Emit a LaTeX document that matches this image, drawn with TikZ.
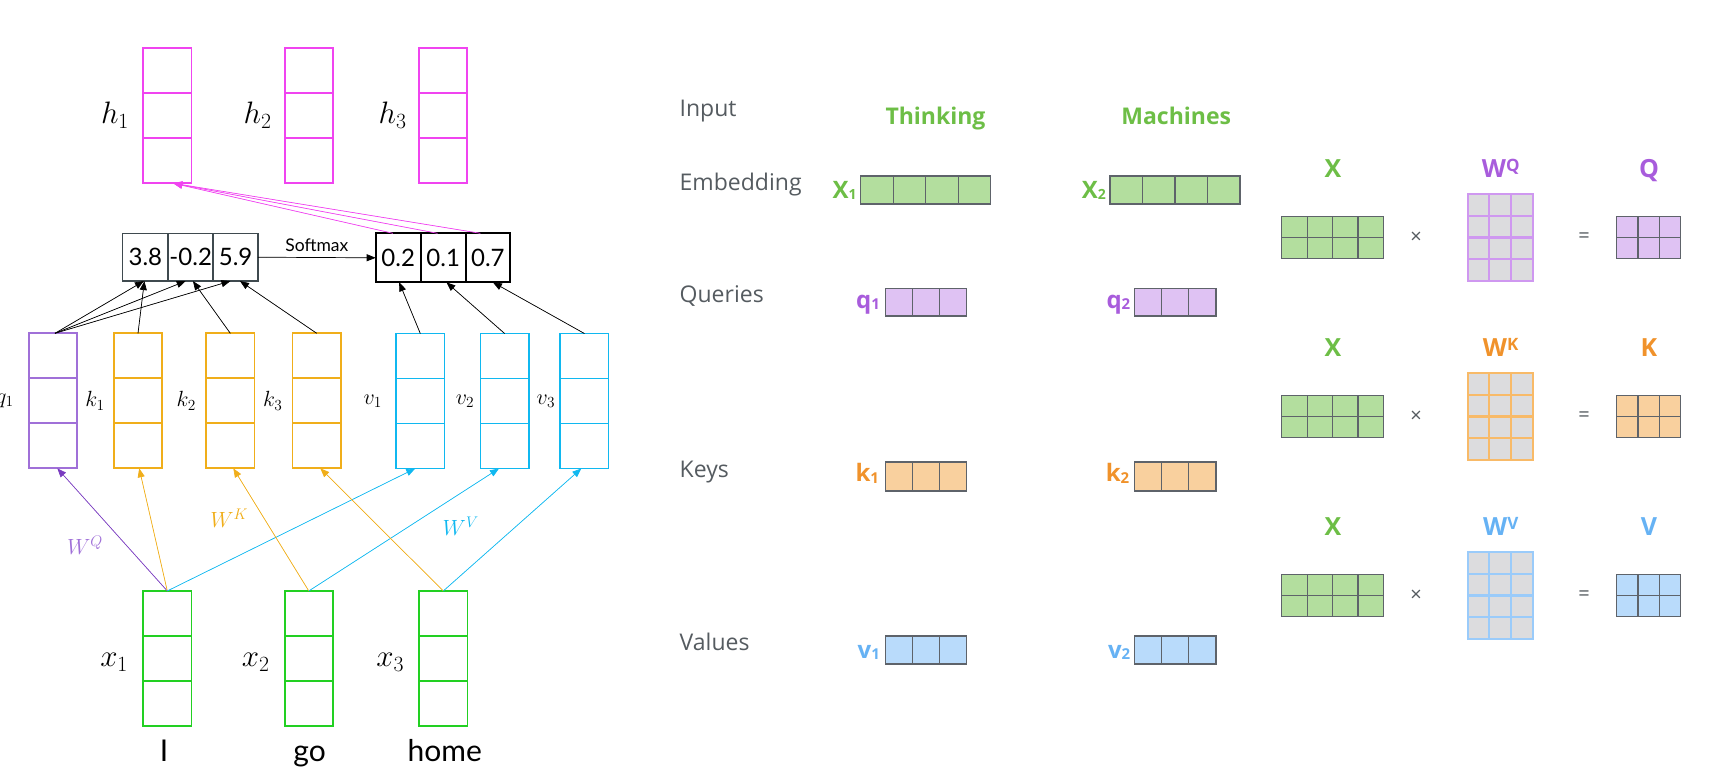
\RequirePackage{fix-cm}
\documentclass[tikz,border=0pt]{standalone}
\usepackage{fontspec}
\usetikzlibrary{arrows.meta,calc}
\newfontfamily\lato{Lato}
\newfontfamily\osf{Open Sans}
\definecolor{pinkc}{HTML}{F044F0}
\definecolor{greenc}{HTML}{22D022}
\definecolor{purc}{HTML}{A070D8}
\definecolor{purarr}{HTML}{7A3CC0}
\definecolor{orc}{HTML}{F0AE1A}
\definecolor{cyc}{HTML}{10B8F0}
\definecolor{scb}{HTML}{3F4A4F}
\definecolor{gtxt}{HTML}{555B60}
\definecolor{gfill}{HTML}{B3DE9E}
\definecolor{glab}{HTML}{6DBE46}
\definecolor{pfill}{HTML}{DFC2F3}
\definecolor{plab}{HTML}{A85CDC}
\definecolor{pgrid}{HTML}{CF98F0}
\definecolor{ofill}{HTML}{F9D09E}
\definecolor{olab}{HTML}{F0922B}
\definecolor{ogrid}{HTML}{F8BA68}
\definecolor{bfill}{HTML}{B9DBFB}
\definecolor{blab}{HTML}{66B2F4}
\definecolor{bgrid}{HTML}{9ACBFA}
\definecolor{cellg}{HTML}{DCDCDE}
\definecolor{mborder}{HTML}{5E636A}
\newcommand\mkgrid[4]{%
  \pgfmathtruncatemacro\mgc{#2-1}\pgfmathtruncatemacro\mgr{#3-1}%
  \ifnum\mgc>0 \foreach \i in {1,...,\mgc}{\draw[#4] ($(#1.north west)!\i/#2!(#1.north east)$) -- ($(#1.south west)!\i/#2!(#1.south east)$);}\fi
  \ifnum\mgr>0 \foreach \j in {1,...,\mgr}{\draw[#4] ($(#1.north west)!\j/#3!(#1.south west)$) -- ($(#1.north east)!\j/#3!(#1.south east)$);}\fi
}
\tikzset{
  vec/.style={draw=#1, line width=1.8pt, minimum width=48.3pt, minimum height=135pt, inner sep=0pt, outer sep=0pt},
  mlab/.style={font=\fontsize{31}{31}\selectfont, inner sep=0pt},
  slab/.style={font=\fontsize{22}{22}\selectfont, inner sep=0pt},
  wlab/.style={font=\fontsize{22}{22}\selectfont, inner sep=0pt},
  word/.style={font=\lato\fontsize{30}{30}\selectfont, inner sep=0pt},
  sc/.style={draw=scb, line width=1.5pt, minimum height=47.7pt, minimum width=45pt, inner sep=0pt, outer sep=0pt, font=\lato\fontsize{24}{24}\selectfont},
  pc/.style={draw=black, line width=2pt, minimum height=49pt, minimum width=45pt, inner sep=0pt, outer sep=0pt, font=\lato\fontsize{24}{24}\selectfont},
  arr/.style={-{Triangle[length=9pt,width=7pt]}, line width=0.7pt, draw=#1, fill=#1},
  rl/.style={font=\osf\fontsize{23}{23}\selectfont, text=gtxt, inner sep=0pt, anchor=base west},
  gl/.style={font=\osf\bfseries\fontsize{23}{23}\selectfont, text=glab, inner sep=0pt, anchor=base},
  hv/.style={draw=mborder, line width=1.2pt, inner sep=0pt, outer sep=0pt, fill=#1},
  vlab/.style={font=\osf\bfseries\fontsize{24}{24}\selectfont, text=#1, inner sep=0pt, anchor=base east},
  mlabr/.style={font=\osf\bfseries\fontsize{25}{25}\selectfont, text=#1, inner sep=0pt, anchor=base},
  op/.style={font=\osf\fontsize{20}{20}\selectfont, text=gtxt, inner sep=0pt},
}
\begin{document}
\begin{tikzpicture}[x=1pt,y=-1pt]
\useasboundingbox (0,0) rectangle (1722,782);
% ---------- left: h vectors
\foreach \n/\x in {h1/167.3,h2/308.8,h3/443}{
  \node[vec=pinkc, minimum height=135.6pt] (\n) at (\x,115.5) {};
  \mkgrid{\n}{1}{3}{draw=pinkc,line width=1.8pt}
}
\node[mlab, anchor=east] (lh1) at ($(h1.west)+(-14,0)$) {$h_1$};
\node[mlab, anchor=east] (lh2) at ($(h2.west)+(-13,0)$) {$h_2$};
\node[mlab, anchor=east] (lh3) at ($(h3.west)+(-12,0)$) {$h_3$};
% ---------- q k v vectors
\node[vec=purc] (q1) at (53,400.8) {};
\mkgrid{q1}{1}{3}{draw=purc,line width=1.8pt}
\foreach \n/\x in {k1/138,k2/230.3,k3/316.7}{
  \node[vec=orc] (\n) at (\x,400.8) {};
  \mkgrid{\n}{1}{3}{draw=orc,line width=1.8pt}
}
\foreach \n/\x in {v1/420.3,v2/504.6,v3/584.4}{
  \node[vec=cyc] (\n) at (\x,401) {};
  \mkgrid{\n}{1}{3}{draw=cyc,line width=1.8pt}
}
\node[slab, anchor=east] (lq1) at ($(q1.west)+(-15,0)$) {$q_1$};
\node[slab, anchor=east] (lk1) at ($(k1.west)+(-9,0)$) {$k_1$};
\node[slab, anchor=east] (lk2) at ($(k2.west)+(-10,0)$) {$k_2$};
\node[slab, anchor=east] (lk3) at ($(k3.west)+(-10,0)$) {$k_3$};
\node[slab, anchor=east] (lv1) at ($(v1.west)+(-14,0)$) {$v_1$};
\node[slab, anchor=east] (lv2) at ($(v2.west)+(-6,0)$) {$v_2$};
\node[slab, anchor=east] (lv3) at ($(v3.west)+(-5,0)$) {$v_3$};
% ---------- x vectors
\foreach \n/\x in {x1/167.3,x2/308.8,x3/443.3}{
  \node[vec=greenc, minimum height=134.7pt] (\n) at (\x,658.3) {};
  \mkgrid{\n}{1}{3}{draw=greenc,line width=1.8pt}
}
\node[mlab, anchor=east] (lx1) at ($(x1.west)+(-15,4)$) {$x_1$};
\node[mlab, anchor=east] (lx2) at ($(x2.west)+(-15,4)$) {$x_2$};
\node[mlab, anchor=east] (lx3) at ($(x3.west)+(-15,4)$) {$x_3$};
\node[word, anchor=base] (wI) at (164.1,761.7) {I};
\node[word, anchor=base] (wgo) at (309.6,761.7) {go};
\node[word, anchor=base] (whome) at (444.8,761.7) {home};
% ---------- score and softmax boxes
\node[sc, minimum width=45.7pt] (s1) at (145.4,257.2) {3.8};
\node[sc] (s2) at (190.7,257.2) {-0.2};
\node[sc, minimum width=44.7pt] (s3) at (235.6,257.2) {5.9};
\node[pc] (p1) at (398.2,257.8) {0.2};
\node[pc] (p2) at (443.2,257.8) {0.1};
\node[pc, minimum width=44.3pt] (p3) at (487.9,257.8) {0.7};
\draw[arr=black] (s3.east) -- (p1.west) node[midway, above=6pt, inner sep=0pt, font=\lato\fontsize{17.5}{17.5}\selectfont] (smx) {Softmax};
% pink connectors
\draw[arr=pinkc] ($(p1.north)+(-5.3,0)$) -- ($(h1.south)+(6,0)$);
\draw[arr=pinkc] ($(p2.north)+(-5.7,0)$) -- ($(h1.south)+(6,0)$);
\draw[arr=pinkc] ($(p3.north)+(-7.5,0)$) -- ($(h1.south)+(6,0)$);
% black connectors
\draw[arr=black] ($(q1.north)+(2,0)$) -- ($(s1.south)+(-1.5,0)$);
\draw[arr=black] ($(q1.north)+(2,0)$) -- ($(s2.south)+(-5,0)$);
\draw[arr=black] ($(q1.north)+(2,0)$) -- ($(s3.south)+(-5.2,0)$);
\draw[arr=black] (k1.north) -- ($(s1.south)+(-1,0)$);
\draw[arr=black] (k2.north) -- ($(s2.south)+(2.2,0)$);
\draw[arr=black] (k3.north) -- ($(s3.south)+(4.4,0)$);
\draw[arr=black] (v1.north) -- ($(p1.south)+(1,0)$);
\draw[arr=black] (v2.north) -- ($(p2.south)+(3.2,0)$);
\draw[arr=black] (v3.north) -- ($(p3.south)+(5,0)$);
% coloured connectors
\draw[arr=purarr] (x1.north) -- ($(q1.south)+(4.3,0)$);
\draw[arr=orc] (x1.north) -- ($(k1.south)+(1.2,0)$);
\draw[arr=cyc] (x1.north) -- ($(v1.south)+(-5.1,0)$);
\draw[arr=orc] (x2.north) -- ($(k2.south)+(3,0)$);
\draw[arr=cyc] (x2.north) -- ($(v2.south)+(-5.6,0)$);
\draw[arr=orc] (x3.north) -- ($(k3.south)+(3.6,0)$);
\draw[arr=cyc] (x3.north) -- ($(v3.south)+(-3.1,0)$);
\node[wlab, text=purc] (wq) at (85,545) {$W^Q$};
\node[wlab, text=orc] (wk) at (229.3,518.3) {$W^K$};
\node[wlab, text=cyc] (wv) at (460.7,526.7) {$W^V$};
% ---------- right: row labels
\node[rl] (tin) at (679.5,116.7) {Input};
\node[rl] (temb) at (679.5,190) {Embedding};
\node[rl] (tq) at (679.5,302) {Queries};
\node[rl] (tk) at (679.5,477.7) {Keys};
\node[rl] (tv) at (679.5,650) {Values};
\node[gl] (tth) at (935.5,124.3) {Thinking};
\node[gl] (tma) at (1176.2,124.3) {Machines};
% vectors
\node[hv=gfill, minimum width=130pt, minimum height=28pt] (X1) at (925.7,190) {};
\node[hv=gfill, minimum width=130pt, minimum height=28pt] (X2) at (1175,190) {};
\node[hv=pfill, minimum width=81.5pt, minimum height=27.7pt] (Q1) at (925.9,302.2) {};
\node[hv=pfill, minimum width=81.5pt, minimum height=27.7pt] (Q2) at (1175.2,302.2) {};
\node[hv=ofill, minimum width=81.5pt, minimum height=29pt] (K1) at (925.9,476.5) {};
\node[hv=ofill, minimum width=81.5pt, minimum height=29pt] (K2) at (1175.2,476.5) {};
\node[hv=bfill, minimum width=81.5pt, minimum height=28pt] (V1) at (925.9,650) {};
\node[hv=bfill, minimum width=81.5pt, minimum height=28pt] (V2) at (1175.2,650) {};
\mkgrid{X1}{4}{1}{draw=mborder,line width=1.2pt}
\mkgrid{X2}{4}{1}{draw=mborder,line width=1.2pt}
\foreach \n in {Q1,Q2,K1,K2,V1,V2}{\mkgrid{\n}{3}{1}{draw=mborder,line width=1.2pt}}
\node[vlab=glab] (lX1) at ($(X1.west)+(-4,8.3)$) {X\raisebox{-1.5pt}{\fontsize{14}{14}\selectfont 1}};
\node[vlab=glab] (lX2) at ($(X2.west)+(-4,8.3)$) {X\raisebox{-1.5pt}{\fontsize{14}{14}\selectfont 2}};
\node[vlab=plab] (lQ1) at ($(Q1.west)+(-5,6)$) {q\raisebox{-1.5pt}{\fontsize{15}{15}\selectfont 1}};
\node[vlab=plab] (lQ2) at ($(Q2.west)+(-4,6)$) {q\raisebox{-1.5pt}{\fontsize{15}{15}\selectfont 2}};
\node[vlab=olab] (lK1) at ($(K1.west)+(-6,5.2)$) {k\raisebox{-1.5pt}{\fontsize{15}{15}\selectfont 1}};
\node[vlab=olab] (lK2) at ($(K2.west)+(-5,5.2)$) {k\raisebox{-1.5pt}{\fontsize{15}{15}\selectfont 2}};
\node[vlab=blab] (lV1) at ($(V1.west)+(-5,8)$) {v\raisebox{-1.5pt}{\fontsize{15}{15}\selectfont 1}};
\node[vlab=blab] (lV2) at ($(V2.west)+(-4,8)$) {v\raisebox{-1.5pt}{\fontsize{15}{15}\selectfont 2}};
% ---------- matrices
\foreach \o/\r/\fc/\gc/\lc/\L in {0/q/pfill/pgrid/plab/Q, 179/k/ofill/ogrid/olab/K, 358/v/bfill/bgrid/blab/V}{
  \node[hv=gfill, minimum width=101.6pt, minimum height=42pt] (mx\r) at (1332.5,237.7+\o) {};
  \mkgrid{mx\r}{4}{2}{draw=mborder,line width=1.2pt}
  \node[op] (tm\r) at (1416,238+\o) {×};
  \node[draw=\gc, line width=2.2pt, fill=cellg, minimum width=65pt, minimum height=86.4pt, inner sep=0pt, outer sep=0pt] (mw\r) at (1500.2,237.5+\o) {};
  \mkgrid{mw\r}{3}{4}{draw=\gc,line width=2.2pt}
  \node[op] (eq\r) at (1584,238+\o) {=};
  \node[hv=\fc, minimum width=64pt, minimum height=42pt] (mr\r) at (1648.7,237.7+\o) {};
  \mkgrid{mr\r}{3}{2}{draw=mborder,line width=1.2pt}
  \node[mlabr=glab] (lmx\r) at (1333,177.7+\o) {X};
  \node[mlabr=\lc] (lmw\r) at (1500.7,177.7+\o) {W\raisebox{6pt}{\fontsize{17}{17}\selectfont\L}};
  \node[mlabr=\lc] (lmr\r) at (1649,177.7+\o) {\L};
}
\end{tikzpicture}
\end{document}
